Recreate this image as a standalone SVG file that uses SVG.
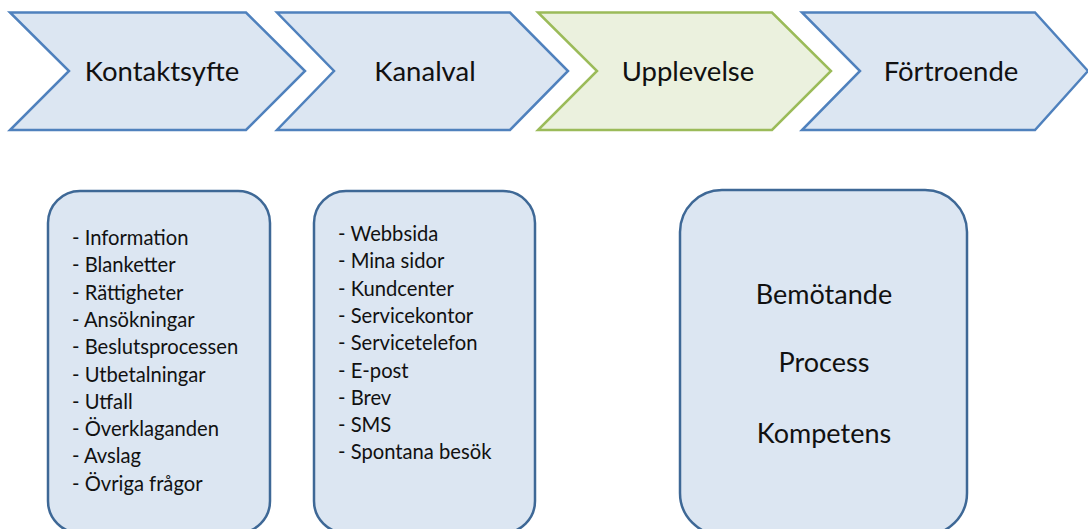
<svg xmlns="http://www.w3.org/2000/svg" width="1088" height="529" viewBox="0 0 1088 529">
<style>
.chev{fill:#dce6f2;stroke:#4f81bd;stroke-width:2.5;stroke-linejoin:miter}
.chev.g{fill:#ebf1de;stroke:#9bbb59}
.box{fill:#dce6f2;stroke:#3e6896;stroke-width:2.5}
text{font-family:Lato,"Liberation Sans",sans-serif;fill:#111}
.ct{font-size:27.5px;text-anchor:middle}
.lt{font-size:20.2px}
.bt{font-size:27px;text-anchor:middle}
</style>
<rect width="1088" height="529" fill="#ffffff"/>
<g id="connectors"></g>
<g id="chev-kontaktsyfte">
<polygon class="chev" points="10,12.5 246,12.5 305,71 246,130 10,130 69,71"/>
<text class="ct" x="162" y="81">Kontaktsyfte</text>
</g>
<g id="chev-kanalval">
<polygon class="chev" points="277,12.5 510,12.5 568,71 510,130 277,130 334,71"/>
<text class="ct" x="425" y="81">Kanalval</text>
</g>
<g id="chev-upplevelse">
<polygon class="chev g" points="538,12.5 772,12.5 831,71 772,130 538,130 597,71"/>
<text class="ct" x="688" y="81">Upplevelse</text>
</g>
<g id="chev-fortroende">
<polygon class="chev" points="802,12.5 1035,12.5 1088,71 1035,130 802,130 860,71"/>
<text class="ct" x="951" y="81">Förtroende</text>
</g>
<g id="box-kontaktsyfte">
<rect class="box" x="48" y="191" width="222" height="342" rx="32"/>
<text class="lt" x="72" y="245">- Information</text>
<text class="lt" x="72" y="272.3">- Blanketter</text>
<text class="lt" x="72" y="299.6">- Rättigheter</text>
<text class="lt" x="72" y="326.9">- Ansökningar</text>
<text class="lt" x="72" y="354.2">- Beslutsprocessen</text>
<text class="lt" x="72" y="381.5">- Utbetalningar</text>
<text class="lt" x="72" y="408.8">- Utfall</text>
<text class="lt" x="72" y="436.1">- Överklaganden</text>
<text class="lt" x="72" y="463.4">- Avslag</text>
<text class="lt" x="72" y="490.7">- Övriga frågor</text>
</g>
<g id="box-kanalval">
<rect class="box" x="314" y="191" width="221" height="342" rx="32"/>
<text class="lt" x="338" y="241">- Webbsida</text>
<text class="lt" x="338" y="268.3">- Mina sidor</text>
<text class="lt" x="338" y="295.6">- Kundcenter</text>
<text class="lt" x="338" y="322.9">- Servicekontor</text>
<text class="lt" x="338" y="350.2">- Servicetelefon</text>
<text class="lt" x="338" y="377.5">- E-post</text>
<text class="lt" x="338" y="404.8">- Brev</text>
<text class="lt" x="338" y="432.1">- SMS</text>
<text class="lt" x="338" y="459.4">- Spontana besök</text>
</g>
<g id="box-upplevelse">
<rect class="box" x="680" y="190" width="287" height="345" rx="42"/>
<text class="bt" x="824" y="304">Bemötande</text>
<text class="bt" x="824" y="372">Process</text>
<text class="bt" x="824" y="443">Kompetens</text>
</g>
</svg>
